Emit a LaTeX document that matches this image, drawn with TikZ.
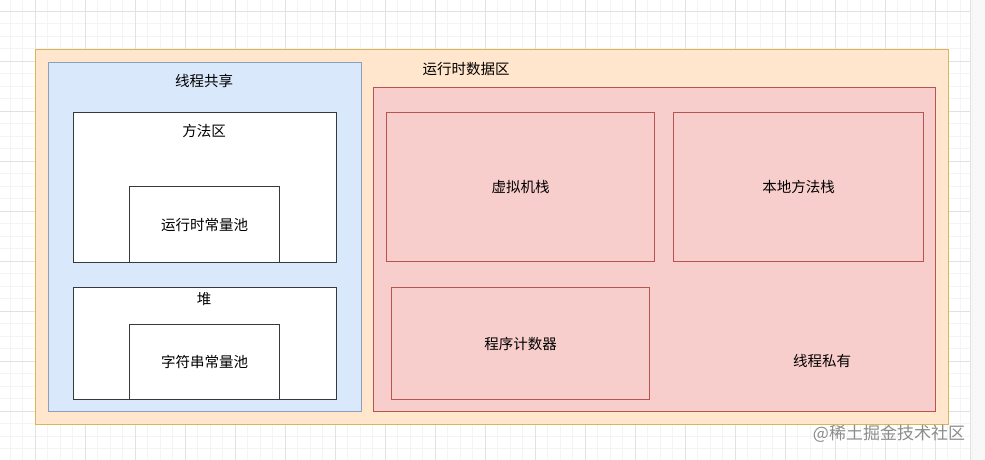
\documentclass[tikz,border=0pt]{standalone}
\usepackage{fontspec}
\setmainfont{Noto Sans CJK SC}
\usepackage{xcolor}
\usetikzlibrary{positioning}

\definecolor{gridminor}{HTML}{F4F4F4}
\definecolor{gridmajor}{HTML}{E2E2E2}
\definecolor{orangefill}{HTML}{FFE6CC}
\definecolor{orangeline}{HTML}{D6B656}
\definecolor{bluefill}{HTML}{DAE8FC}
\definecolor{blueline}{HTML}{8D9FB8}
\definecolor{redfill}{HTML}{F8CECC}
\definecolor{redline}{HTML}{B85450}
\definecolor{boxline}{HTML}{36393D}

\tikzset{
    area/.style = {draw, line width=1.3pt, anchor=north west, inner sep=0pt},
    runtime/.style = {area, fill=orangefill, draw=orangeline},
    shared/.style = {area, fill=bluefill, draw=blueline},
    private/.style = {area, fill=redfill, draw=redline},
    plain/.style = {area, fill=white, draw=boxline},
    label/.style = {font=\fontsize{14.5}{17}\selectfont, inner sep=0pt}
}

\begin{document}
\begin{tikzpicture}[x=1pt, y=-1pt]
    \useasboundingbox (0,0) rectangle (985,460);
    % background grid
    \fill[white] (0,0) rectangle (970,460);
    \fill[gridminor!60] (970,0) rectangle (985,460);
    \foreach \i in {0,...,78} {
        \draw[gridminor, line width=0.6pt] (\i*12.5-2.5,0) -- (\i*12.5-2.5,460);
    }
    \foreach \i in {0,...,37} {
        \draw[gridminor, line width=0.6pt] (0,\i*12.5-1.5) -- (970,\i*12.5-1.5);
    }
    \foreach \i in {0,...,18} {
        \draw[gridmajor, line width=0.8pt] (\i*50+35,0) -- (\i*50+35,460);
    }
    \foreach \i in {0,...,9} {
        \draw[gridmajor, line width=0.8pt] (0,\i*50+11) -- (970,\i*50+11);
    }
    \draw[gridmajor, line width=0.8pt] (970,0) -- (970,460);

    % runtime data area
    \node[runtime, minimum width=913pt, minimum height=375pt] (rtdata) at (35,49) {};
    \node[label] (rtdatatitle) at (466,69) {运行时数据区};

    % thread shared
    \node[shared, minimum width=313pt, minimum height=349pt] (shared) at (48,62) {};
    \node[label] (sharedtitle) at (204,81) {线程共享};

    \node[plain, minimum width=263pt, minimum height=150pt] (method) at (73,112) {};
    \node[label] (methodtitle) at (204,131) {方法区};
    \node[plain, minimum width=150pt, minimum height=76pt] (rtpool) at (129,186) {};
    \node[label] at (rtpool.center) {运行时常量池};

    \node[plain, minimum width=263pt, minimum height=112pt] (heap) at (73,287) {};
    \node[label] (heaptitle) at (204,299) {堆};
    \node[plain, minimum width=150pt, minimum height=75pt] (strpool) at (129,324) {};
    \node[label] at (strpool.center) {字符串常量池};

    % thread private
    \node[private, minimum width=562pt, minimum height=324pt] (private) at (373,87) {};
    \node[private, minimum width=268pt, minimum height=149pt] (vmstack) at (386,112) {};
    \node[label] at (vmstack.center) {虚拟机栈};
    \node[private, minimum width=250pt, minimum height=149pt] (nativestack) at (673,112) {};
    \node[label] at (nativestack.center) {本地方法栈};
    \node[private, minimum width=258pt, minimum height=112pt] (pc) at (391,287) {};
    \node[label] at (pc.center) {程序计数器};
    \node[label] (privatetitle) at (822,361) {线程私有};

    % watermark
    \node[label, text=black!45, font=\fontsize{17}{19}\selectfont] (mark) at (889,434) {@稀土掘金技术社区};
\end{tikzpicture}
\end{document}
